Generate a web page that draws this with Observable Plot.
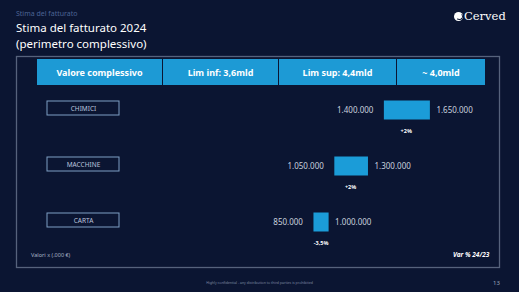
<!DOCTYPE html>
<html>
<head>
<meta charset="utf-8">
<script src="https://cdn.jsdelivr.net/npm/d3@7"></script>
<script src="https://cdn.jsdelivr.net/npm/@observablehq/plot@0.6"></script>
<style>
  html, body { margin:0; padding:0; background:#0b1532; width:519px; height:292px; overflow:hidden; font-family:"Noto Sans", sans-serif; }
  #wrap { position:relative; width:519px; height:292px; }
  #wrap svg { position:absolute; left:0; top:0; }
  .abs { position:absolute; white-space:nowrap; }
  #kicker { left:16px; top:9px; font-size:7px; color:#4c6394; }
  #title { left:16px; top:20px; font-size:11.5px; line-height:15.5px; color:#ffffff; }
  #logo { left:454px; top:9px; font-family:"DejaVu Serif", serif; font-size:11.5px; color:#ffffff; display:flex; align-items:center; gap:1px; }
  #logo .dot { width:9px; height:9px; border-radius:50%; background:#fff; position:relative; overflow:hidden; }
  #logo .dot::after { content:""; position:absolute; width:5px; height:5px; border-radius:50%; border:1.2px solid #0b1532; border-left-color:transparent; border-top-color:transparent; left:1.5px; top:1px; }
  #header { left:37px; top:59px; height:26px; display:flex; gap:1px; background:#0b1532; }
  #header div { background:#1d9ad5; color:#fff; font-weight:700; font-size:9px; display:flex; align-items:center; justify-content:center; height:26px; }
  #note { left:31px; top:251px; font-size:5.5px; color:#aab4c6; }
  #var { left:453px; top:250px; font-size:6.5px; color:#ffffff; font-weight:700; font-style:italic; }
  #foot { left:0; width:519px; top:280px; text-align:center; font-size:3.5px; color:#7f8aa3; }
  #page { left:493px; top:279px; font-size:6px; color:#9aa5bb; }
</style>
</head>
<body>
<div id="wrap"></div>
<script>
const categories = ["CHIMICI", "MACCHINE", "CARTA"];
const lowValues = [1400000, 1050000, 850000];
const highValues = [1650000, 1300000, 1000000];
const variations = ["+2%", "+2%", "-3,5%"];
const headerLabels = ["Valore complessivo", "Lim inf: 3,6mld", "Lim sup: 4,4mld", "~ 4,0mld"];
const headerWidths = [125, 115, 117, 88];

const rows = categories.map((c, i) => ({cat: c, lo: lowValues[i], hi: highValues[i], v: variations[i]}));
const it = d3.formatLocale({decimal: ",", thousands: ".", grouping: [3], currency: ["", " €"]});
const fmt = it.format(",");

const ink = "#c9d1de";
const chart = Plot.plot({
  width: 519, height: 292,
  marginTop: 56, marginRight: 20, marginBottom: 25, marginLeft: 16,
  style: {background: "transparent", fontFamily: "Noto Sans, sans-serif", overflow: "visible"},
  x: {type: "pow", exponent: 2.2, domain: [0, 2000000], range: [278.2, 509.8], axis: null},
  y: {type: "band", domain: categories, range: [82, 250], padding: 0, axis: null},
  marks: [
    Plot.frame({stroke: "#56627c", strokeWidth: 1.3}),
    Plot.rect(rows, {y: "cat", insetTop: 19, insetBottom: 23, insetLeft: 31, insetRight: 380, fill: "none", stroke: "#7f9fc4", strokeWidth: 1}),
    Plot.text(rows, {y: "cat", text: "cat", frameAnchor: "left", dx: 67, dy: -2, textAnchor: "middle", fill: "#bcc4dc", fontSize: 6.5}),
    Plot.barX(rows, {x1: "lo", x2: "hi", y: "cat", fill: "#1b9cd8", insetTop: 18.5, insetBottom: 18.5}),
    Plot.text(rows, {x: "lo", y: "cat", text: d => fmt(d.lo), textAnchor: "end", dx: -11, fill: ink, fontSize: 8}),
    Plot.text(rows, {x: "hi", y: "cat", text: d => fmt(d.hi), textAnchor: "start", dx: 6, fill: ink, fontSize: 8}),
    Plot.text(rows, {x: d => (d.lo + d.hi) / 2, y: "cat", text: "v", dy: 21, fill: "#ffffff", fontSize: 5.5, fontWeight: "bold"})
  ]
});
const wrap = document.getElementById("wrap");
wrap.appendChild(chart);

function add(id, html) {
  const d = document.createElement("div");
  d.className = "abs"; d.id = id; d.innerHTML = html;
  wrap.appendChild(d);
  return d;
}
add("kicker", "Stima del fatturato");
add("title", "Stima del fatturato 2024<br>(perimetro complessivo)");
add("logo", '<span class="dot"></span><span>Cerved</span>');
const hdr = add("header", "");
headerLabels.forEach((t, i) => {
  const c = document.createElement("div");
  c.style.width = headerWidths[i] + "px";
  c.textContent = t;
  hdr.appendChild(c);
});
add("note", "Valori x (.000 €)");
add("var", "Var % 24/23");
add("foot", "Highly confidential - any distribution to third parties is prohibited");
add("page", "13");
</script>
</body>
</html>
